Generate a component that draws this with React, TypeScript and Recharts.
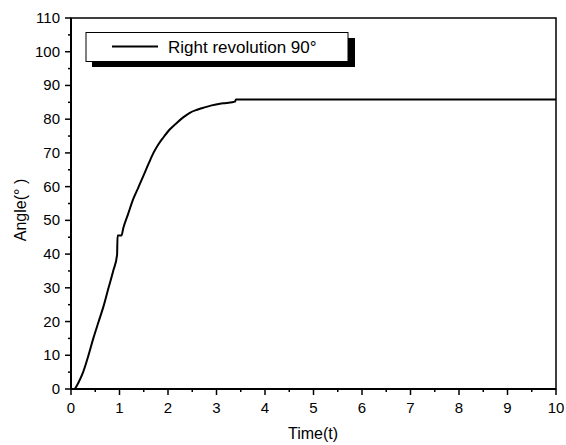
import React from 'react';
import { LineChart, Line, XAxis, YAxis, ReferenceArea } from 'recharts';

const seriesName = 'Right revolution 90°';
const timeValues = [0.08, 0.15, 0.25, 0.35, 0.46, 0.57, 0.67, 0.77, 0.87, 0.95, 0.96, 1.04, 1.08, 1.18, 1.28, 1.39, 1.49, 1.6, 1.7, 1.8, 1.9, 2.04, 2.18, 2.32, 2.45, 2.6, 2.73, 2.9, 3.07, 3.2, 3.38, 3.4, 4, 5, 6, 7, 8, 9, 10];
const angleValues = [0, 1.8, 5, 9.5, 15, 20, 24.5, 29.8, 35, 39.8, 45.5, 45.5, 47.8, 52, 56.2, 59.8, 63.1, 66.8, 70, 72.5, 74.5, 77, 78.9, 80.6, 81.9, 82.8, 83.4, 84.1, 84.6, 84.8, 85.2, 85.8, 85.8, 85.8, 85.8, 85.8, 85.8, 85.8, 85.8];
const xTicks = [0, 0.5, 1, 1.5, 2, 2.5, 3, 3.5, 4, 4.5, 5, 5.5, 6, 6.5, 7, 7.5, 8, 8.5, 9, 9.5, 10];
const yTicks = [0, 5, 10, 15, 20, 25, 30, 35, 40, 45, 50, 55, 60, 65, 70, 75, 80, 85, 90, 95, 100, 105, 110];
const xTitle = 'Time(t)';
const yTitle = 'Angle(° )';

const data = timeValues.map((t, i) => ({ t, angle: angleValues[i] }));

const FONT = "Arial, 'Liberation Sans', Helvetica, sans-serif";

const XTick = (props: any) => {
  const { x, y, payload } = props;
  const v = payload.value;
  const major = Number.isInteger(v);
  return (
    <g>
      <line x1={x} x2={x} y1={y} y2={y + (major ? 6 : 3)} stroke="#000" strokeWidth={1.5} />
      {major && (
        <text x={x} y={y + 24} textAnchor="middle" fontSize={15} fontFamily={FONT} fill="#000">
          {v}
        </text>
      )}
    </g>
  );
};

const YTick = (props: any) => {
  const { x, y, payload } = props;
  const v = payload.value;
  const major = v % 10 === 0;
  return (
    <g>
      <line x1={x} x2={x - (major ? 6 : 3)} y1={y} y2={y} stroke="#000" strokeWidth={1.5} />
      {major && (
        <text x={x - 11} y={y + 5} textAnchor="end" fontSize={15} fontFamily={FONT} fill="#000">
          {v}
        </text>
      )}
    </g>
  );
};

export default function App() {
  return (
    <div style={{ position: 'absolute', left: 0, top: 0, width: 566, height: 445, background: '#fff' }}>
      <LineChart width={566} height={445} data={data} margin={{ top: 18, right: 10, left: 21, bottom: 16 }}>
        <XAxis
          dataKey="t"
          type="number"
          domain={[0, 10]}
          ticks={xTicks}
          interval={0}
          tickSize={0}
          tickMargin={0}
          tickLine={false}
          tick={<XTick />}
          height={40}
          axisLine={{ stroke: '#000', strokeWidth: 2 }}
        />
        <YAxis
          type="number"
          domain={[0, 110]}
          ticks={yTicks}
          interval={0}
          tickSize={0}
          tickMargin={0}
          tickLine={false}
          tick={<YTick />}
          width={50}
          axisLine={{ stroke: '#000', strokeWidth: 2 }}
        />
        <ReferenceArea x1={0} x2={10} y1={0} y2={110} fill="none" stroke="#000" strokeWidth={1.5} />
        <Line
          type="monotoneX"
          dataKey="angle"
          name={seriesName}
          stroke="#000"
          strokeWidth={2}
          dot={false}
          isAnimationActive={false}
        />
      </LineChart>
      <svg width={566} height={445} style={{ position: 'absolute', left: 0, top: 0, pointerEvents: 'none' }}>
        <text x={313} y={439} textAnchor="middle" fontSize={16} fontFamily={FONT} fill="#000">
          {xTitle}
        </text>
        <text
          x={0}
          y={0}
          transform="translate(26,210) rotate(-90)"
          textAnchor="middle"
          fontSize={16}
          fontFamily={FONT}
          fill="#000"
        >
          {yTitle}
        </text>
        <rect x={92} y={38} width={263} height={29} fill="#000" />
        <rect x={86} y={32.5} width={262} height={29} fill="#fff" stroke="#000" strokeWidth={1} />
        <line x1={112} x2={158} y1={46.5} y2={46.5} stroke="#000" strokeWidth={2} />
        <text x={168} y={53} fontSize={17} fontFamily={FONT} fill="#000">
          {seriesName}
        </text>
      </svg>
    </div>
  );
}
